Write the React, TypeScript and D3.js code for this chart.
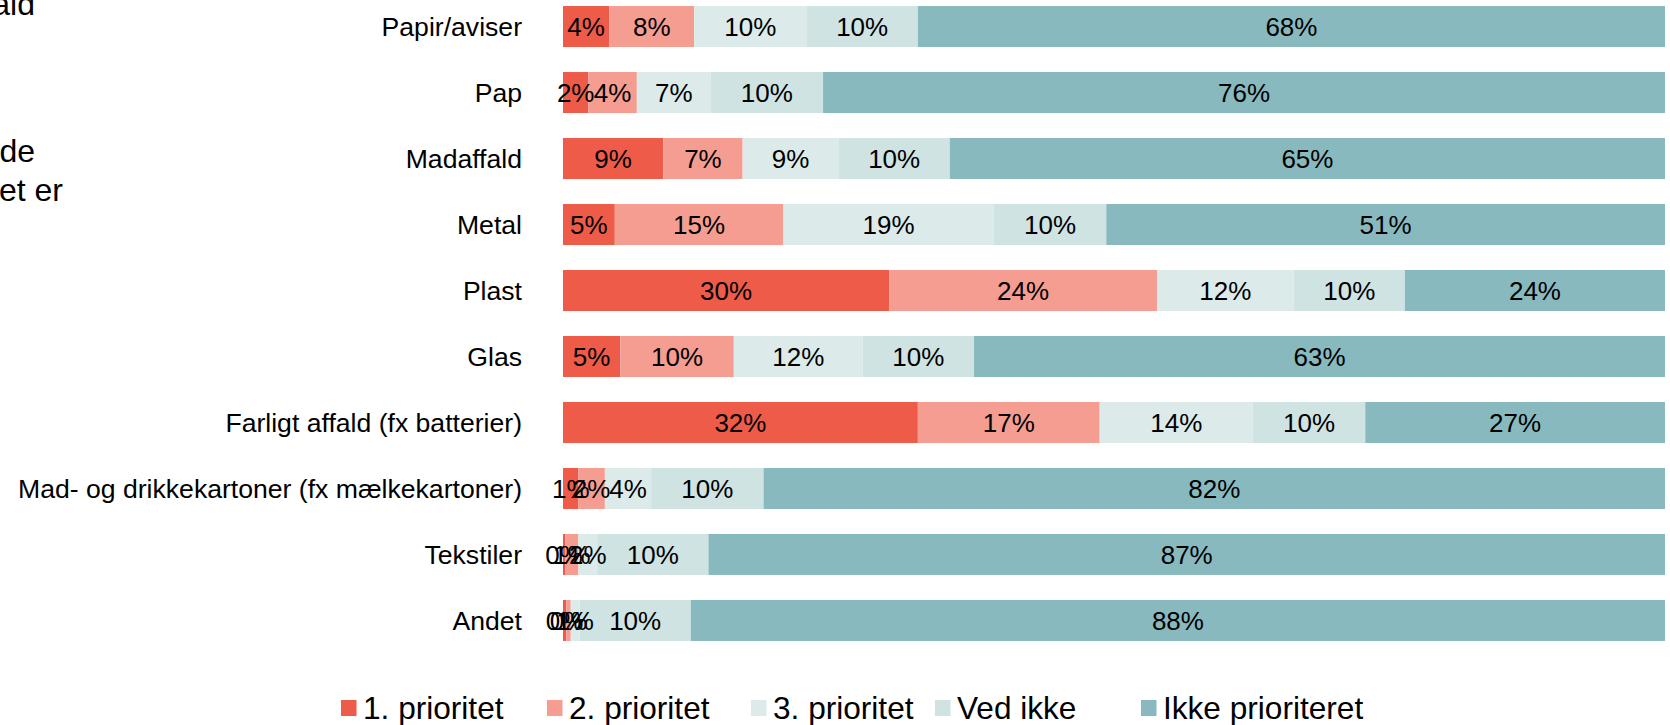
import React from 'react';
import * as d3 from 'd3';

const categories = [
    'Papir/aviser',
    'Pap',
    'Madaffald',
    'Metal',
    'Plast',
    'Glas',
    'Farligt affald (fx batterier)',
    'Mad- og drikkekartoner (fx mælkekartoner)',
    'Tekstiler',
    'Andet'
];

const seriesNames = ['1. prioritet', '2. prioritet', '3. prioritet', 'Ved ikke', 'Ikke prioriteret'];

// percent shares per category, same order as categories
const prio1 = [4.2, 2.3, 9.1, 4.7, 29.6, 5.2, 32.2, 1.4, 0.2, 0.3];
const prio2 = [7.7, 4.4, 7.2, 15.3, 24.3, 10.3, 16.5, 2.4, 1.2, 0.4];
const prio3 = [10.2, 6.7, 8.7, 19.1, 12.4, 11.7, 13.9, 4.2, 1.7, 0.8];
const vedIkke = [10.1, 10.2, 10.1, 10.2, 10.1, 10.1, 10.2, 10.2, 10.1, 10.1];
const ikkePrio = [67.8, 76.4, 64.9, 50.7, 23.6, 62.7, 27.2, 81.8, 86.8, 88.4];

const colors = ['#ef5b49', '#f59d91', '#dcebea', '#cfe3e2', '#88b9be'];

const titleBits = [
    {text: 'affald', x: 35, y: 15},
    {text: 'de', x: 35, y: 162},
    {text: 'et er', x: 63, y: 201}
];

const FONT = 'Arial, "Liberation Sans", Helvetica, sans-serif';
const W = 1670;
const H = 725;

export default function App()
{
    const keys = seriesNames;
    const rows = categories.map((c, i) => ({
        cat: c,
        [keys[0]]: prio1[i],
        [keys[1]]: prio2[i],
        [keys[2]]: prio3[i],
        [keys[3]]: vedIkke[i],
        [keys[4]]: ikkePrio[i]
    }));

    const stacked = d3.stack<any>().keys(keys)(rows);

    const x = d3.scaleLinear().domain([0, 100]).range([563, 1665]);
    const y = d3.scaleBand()
        .domain(categories)
        .range([-6.5, -6.5 + 660])
        .paddingInner(0.379)
        .paddingOuter(0.19);

    const color = d3.scaleOrdinal<string>().domain(keys).range(colors);

    const legendX = [341, 547, 751, 935, 1141];

    return (
        <div style={{position: 'absolute', left: 0, top: 0}}>
            <svg width={W} height={H} style={{display: 'block'}} fontFamily={FONT}>
                <rect width={W} height={H} fill="#fff"/>

                {titleBits.map((t, i) => (
                    <text key={i} x={t.x} y={t.y} fontSize={32} textAnchor="end" fill="#000">{t.text}</text>
                ))}

                {categories.map((c) => (
                    <text key={c} x={522} y={y(c)! + y.bandwidth() / 2} dy="0.35em"
                          fontSize={26.6} textAnchor="end" fill="#000">{c}</text>
                ))}

                {stacked.map((layer) => (
                    <g key={layer.key} fill={color(layer.key)}>
                        {layer.map((d, j) => (
                            <rect key={j} x={x(d[0])} y={y(categories[j])}
                                  width={x(d[1]) - x(d[0])} height={y.bandwidth()}/>
                        ))}
                    </g>
                ))}

                {stacked.map((layer) => (
                    <g key={'l' + layer.key}>
                        {layer.map((d, j) => (
                            <text key={j} x={(x(d[0]) + x(d[1])) / 2}
                                  y={y(categories[j])! + y.bandwidth() / 2} dy="0.36em"
                                  fontSize={26} textAnchor="middle" fill="#000">
                                {Math.round(d[1] - d[0]) + '%'}
                            </text>
                        ))}
                    </g>
                ))}

                {keys.map((k, i) => (
                    <g key={k} transform={`translate(${legendX[i]},708)`}>
                        <rect x={0} y={-8} width={15.5} height={16} fill={color(k)}/>
                        <text x={22} y={0} dy="0.35em" fontSize={31.6} fill="#000">{k}</text>
                    </g>
                ))}
            </svg>
        </div>
    );
}
